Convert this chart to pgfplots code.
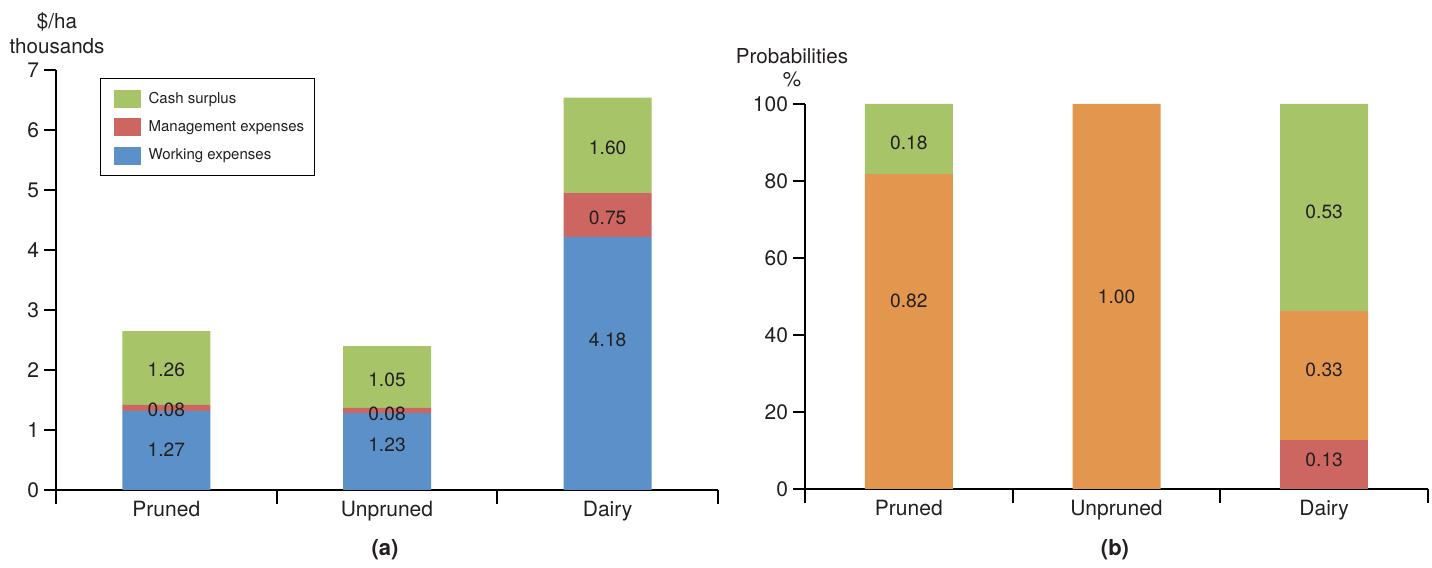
\documentclass[border=0pt]{standalone}
\usepackage{fontspec}
\setmainfont{TeX Gyre Heros}
\usepackage{pgfplots}
\pgfplotsset{compat=1.18}
\definecolor{cgreen}{HTML}{A8C468}
\definecolor{cred}{HTML}{CD6661}
\definecolor{cblue}{HTML}{5B90C8}
\definecolor{corange}{HTML}{E3974E}
\definecolor{ctext}{HTML}{231F20}
\pgfplotsset{
  base/.style={
    scale only axis, anchor=south west,
    xmin=-0.5, xmax=2.5, ymin=0,
    axis x line*=bottom, axis y line*=left,
    axis line style={line width=1pt, black},
    tick align=outside,
    major tick length=6pt,
    minor tick length=7pt,
    xtick={0,1,2}, xticklabels={Pruned,Unpruned,Dairy},
    minor xtick={-0.5,0.5,1.5,2.5},
    major x tick style={draw=none},
    minor x tick style={line width=1pt, black},
    major y tick style={line width=1pt, black},
    tick label style={font=\fontsize{10.5}{11}\selectfont, text=ctext},
    xticklabel style={yshift=4pt},
    yticklabel style={xshift=1pt},
    /pgf/number format/assume math mode=true,
  },
  labs/.style={
    scale only axis, anchor=south west, hide axis,
    xmin=-0.5, xmax=2.5, ymin=0,
  },
  sw/.style={legend image code/.code={\path (0pt,0pt); \fill[##1] (5.5pt,-4.5pt) rectangle (19pt,4.5pt);}},
}
\pgfplotstableread{
x  work  mgmt  cash
0  1.32  0.10  1.23
1  1.28  0.09  1.03
2  4.22  0.73  1.59
}\dataA
\pgfplotstableread{
x  lab  y
0  1.27  0.67
0  0.08  1.33
0  1.26  2.00
1  1.23  0.75
1  0.08  1.27
1  1.05  1.83
2  4.18  2.50
2  0.75  4.53
2  1.60  5.70
}\labA
\pgfplotstableread{
x  red   orange  green
0  0     81.8    18.2
1  0     100     0
2  12.7  33.5    53.8
}\dataB
\pgfplotstableread{
x  lab   y
0  0.82  49.0
0  0.18  89.9
1  1.00  50.0
2  0.13  7.5
2  0.33  30.9
2  0.53  72.0
}\labB
\begin{document}
\begin{tikzpicture}
\useasboundingbox (0pt,0pt) rectangle (716pt,284pt);
% ---------- (a)
\begin{axis}[base, at={(28pt,39pt)}, width=331pt, height=210pt,
  ymax=7, ytick={0,1,...,7},
  ybar stacked, bar width=44pt,
  legend style={at={(0.0665,0.981)}, anchor=north west, draw=black, line width=0.6pt,
    fill=white, font=\fontsize{7.5}{8.5}\selectfont, text=ctext, row sep=3.2pt,
    inner xsep=1pt, inner ysep=4.6pt,
    nodes={inner xsep=4pt}},
  legend cell align=left, reverse legend]
\addplot[fill=cblue, draw=none, sw] table[x=x,y=work]{\dataA};
\addlegendentry{Working expenses}
\addplot[fill=cred, draw=none, sw] table[x=x,y=mgmt]{\dataA};
\addlegendentry{Management expenses}
\addplot[fill=cgreen, draw=none, sw] table[x=x,y=cash]{\dataA};
\addlegendentry{Cash surplus}
\end{axis}
\begin{axis}[labs, at={(28pt,39pt)}, width=331pt, height=210pt, ymax=7]
\addplot[draw=none, mark=none, nodes near coords, point meta=explicit symbolic,
  every node near coord/.style={anchor=center, font=\fontsize{9.6}{10}\selectfont, text=ctext}]
  table[x=x, y=y, meta=lab]{\labA};
\end{axis}
% ---------- (b)
\begin{axis}[base, at={(402.5pt,39.5pt)}, width=311.5pt, height=192.5pt,
  ymax=100, ytick={0,20,...,100},
  ybar stacked, bar width=44pt]
\addplot[fill=cred, draw=none] table[x=x,y=red]{\dataB};
\addplot[fill=corange, draw=none] table[x=x,y=orange]{\dataB};
\addplot[fill=cgreen, draw=none] table[x=x,y=green]{\dataB};
\end{axis}
\begin{axis}[labs, at={(402.5pt,39.5pt)}, width=311.5pt, height=192.5pt, ymax=100]
\addplot[draw=none, mark=none, nodes near coords, point meta=explicit symbolic,
  every node near coord/.style={anchor=center, font=\fontsize{9.6}{10}\selectfont, text=ctext}]
  table[x=x, y=y, meta=lab]{\labB};
\end{axis}
% ---------- texts
\node[align=center, font=\fontsize{10.3}{12.5}\selectfont, text=ctext] at (28.5pt,267.5pt) {\$/ha\\thousands};
\node[align=center, font=\fontsize{10.3}{11.5}\selectfont, text=ctext] at (396pt,250pt) {Probabilities\\\%};
\node[font=\bfseries\fontsize{11}{12}\selectfont, text=ctext] at (192.5pt,9pt) {(a)};
\node[font=\bfseries\fontsize{11}{12}\selectfont, text=ctext] at (557.5pt,9pt) {(b)};
\end{tikzpicture}
\end{document}
